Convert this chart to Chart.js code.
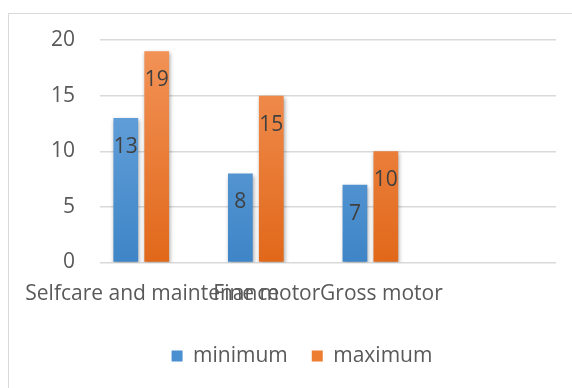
<!DOCTYPE html>
<html><head><meta charset="utf-8">
<script src="https://cdn.jsdelivr.net/npm/chart.js@4/dist/chart.umd.min.js"></script>
<style>
html,body{margin:0;padding:0;background:#fff;}
#wrap{position:relative;width:572px;height:388px;overflow:hidden;}
#frame{position:absolute;left:8px;top:13px;width:600px;height:400px;border:1px solid #d9d9d9;box-sizing:border-box;}
canvas{position:absolute;left:0;top:0;}
</style></head>
<body>
<div id="wrap"><div id="frame"></div><canvas id="c" width="572" height="388"></canvas></div>
<script>
const categories = ['Selfcare and maintenance', 'Fine motor', 'Gross motor'];
const seriesNames = ['minimum', 'maximum'];
const minimum = [13, 8, 7];
const maximum = [19, 15, 10];
const yTicks = [0, 5, 10, 15, 20];

const FONT = "'Open Sans', 'Noto Sans', sans-serif";

function grad(top, bottom) {
  return (ctx) => {
    const area = ctx.chart.chartArea;
    if (!area) return bottom;
    const g = ctx.chart.ctx.createLinearGradient(0, area.top, 0, area.bottom);
    g.addColorStop(0, top);
    g.addColorStop(1, bottom);
    return g;
  };
}

const shadowPlugin = {
  id: 'shadow',
  beforeDatasetsDraw(chart) {
    const c = chart.ctx;
    c.save();
    c.shadowColor = 'rgba(0,0,0,0.35)';
    c.shadowBlur = 4;
    c.shadowOffsetX = 1;
    c.shadowOffsetY = 2;
  },
  afterDatasetsDraw(chart) {
    chart.ctx.restore();
  }
};

const labelPlugin = {
  id: 'barLabels',
  afterDatasetsDraw(chart) {
    const c = chart.ctx;
    c.save();
    c.font = '21px ' + FONT;
    c.fillStyle = '#404040';
    c.textAlign = 'center';
    c.textBaseline = 'middle';
    chart.data.datasets.forEach((ds, di) => {
      const meta = chart.getDatasetMeta(di);
      meta.data.forEach((el, i) => {
        c.fillText(String(ds.data[i].y), el.x, el.y + 29);
      });
    });
    c.restore();
  }
};

new Chart(document.getElementById('c'), {
  type: 'bar',
  data: {
    datasets: [
      { label: seriesNames[0], data: minimum.map((v, i) => ({ x: i, y: v })),
        backgroundColor: grad('#72aae0', '#3e85c7') },
      { label: seriesNames[1], data: maximum.map((v, i) => ({ x: i, y: v })),
        backgroundColor: grad('#f39459', '#e1681a') }
    ]
  },
  plugins: [shadowPlugin, labelPlugin],
  options: {
    responsive: false,
    animation: false,
    categoryPercentage: 0.54,
    barPercentage: 0.8,
    layout: { padding: { left: 48, right: 16, top: 40, bottom: 11.5 } },
    plugins: {
      title: { display: false },
      tooltip: { enabled: false },
      legend: {
        position: 'bottom',
        labels: {
          boxWidth: 11, boxHeight: 11, padding: 24,
          color: '#595959', font: { family: FONT, size: 21 },
          generateLabels(chart) {
            const cols = ['#4a8fd0', '#ed7d31'];
            return chart.data.datasets.map((ds, i) => ({
              text: ds.label, fillStyle: cols[i], strokeStyle: cols[i], lineWidth: 0,
              hidden: false, datasetIndex: i, fontColor: '#595959'
            }));
          }
        }
      }
    },
    scales: {
      x: {
        type: 'linear',
        offset: false,
        bounds: 'data',
        min: -0.36, max: 3.62,
        grid: { display: false, drawTicks: false, offset: false },
        border: { display: false },
        afterBuildTicks(scale) { scale.ticks = categories.map((_, i) => ({ value: i })); },
        afterFit(scale) { scale.height = 59; scale.paddingLeft = 0; scale.paddingRight = 0; },
        ticks: {
          autoSkip: false, maxRotation: 0, padding: 19, labelOffset: 11,
          color: '#595959', font: { family: FONT, size: 21 },
          callback: (v) => categories[v] !== undefined ? categories[v] : ''
        }
      },
      y: {
        min: 0, max: 20,
        afterBuildTicks(scale) { scale.ticks = yTicks.map(v => ({ value: v })); },
        afterFit(scale) { scale.width = 52; },
        grid: { color: '#d9d9d9', lineWidth: 1.5, drawTicks: false },
        border: { display: false },
        ticks: { padding: 25, color: '#595959', font: { family: FONT, size: 21 } }
      }
    }
  }
});
</script>
</body></html>
